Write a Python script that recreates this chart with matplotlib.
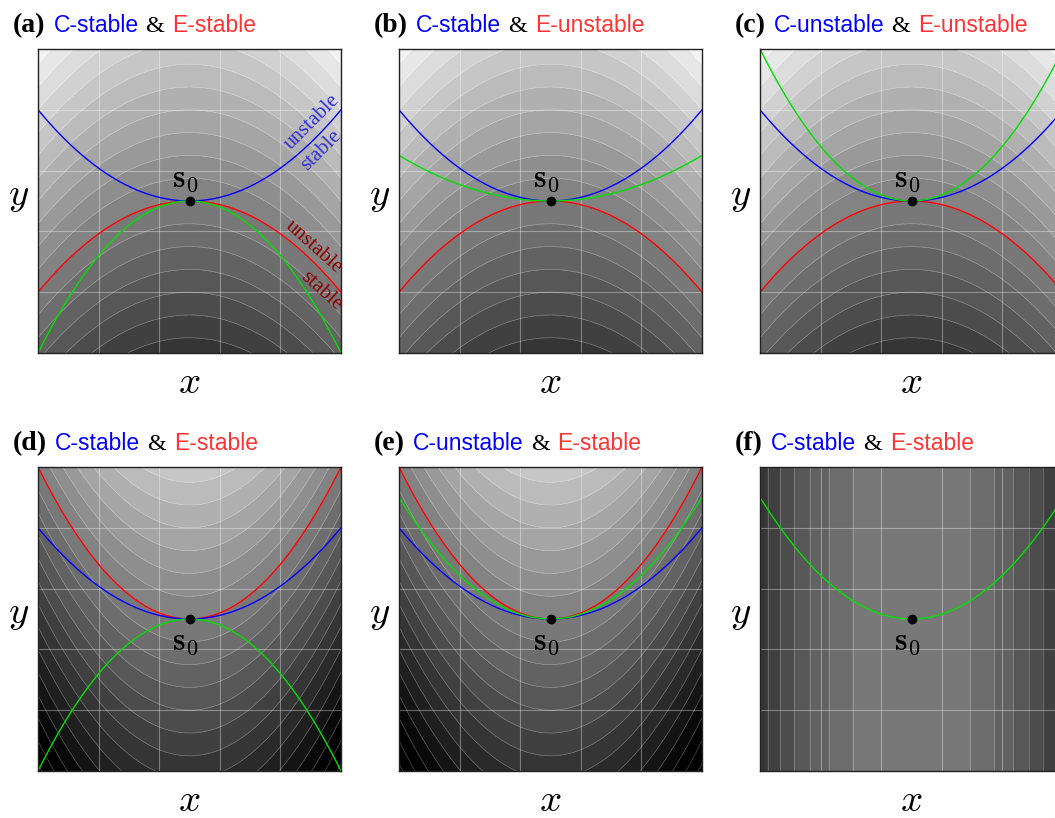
import numpy as np
import matplotlib
matplotlib.use('Agg')
import matplotlib.pyplot as plt
from matplotlib.colors import Normalize

plt.rcParams['mathtext.fontset'] = 'cm'

# panel data
letters = ['a', 'b', 'c', 'd', 'e', 'f']
c_state = ['stable', 'stable', 'unstable', 'stable', 'unstable', 'stable']
e_state = ['stable', 'unstable', 'unstable', 'stable', 'stable', 'stable']
blue_k = [0.6, 0.6, 0.6, 0.6, 0.6, None]      # C curve, y = k x^2
red_k = [-0.6, -0.6, -0.6, 1.0, 1.0, None]    # E level set through s0
green_k = [-1.0, 0.3, 1.0, -1.0, 0.8, 0.8]
field_k = [0.6, 0.6, 0.6, -1.0, -1.0, -1.0]   # background f = a*y + k*x^2
field_a = [1, 1, 1, 1, 1, 0]
s0_above = [True, True, True, False, False, False]
grid_ticks = [-0.6, -0.2, 0.2, 0.6]
levels = np.arange(-16, 17) * 0.15

W, H = 1055, 818
col_left = [38, 399, 760]
row_top = [49, 467]
aw, ah = 303, 304

fig = plt.figure(figsize=(W / 100, H / 100), dpi=100)
norm = Normalize(vmin=-1.7, vmax=1.75)

xs = np.linspace(-1, 1, 400)
X, Y = np.meshgrid(xs, xs)
xc = np.linspace(-1, 1, 300)

axes = []
for i in range(6):
    r, c = divmod(i, 3)
    l, t = col_left[c], row_top[r]
    ax = fig.add_axes([l / W, (H - t - ah) / H, aw / W, ah / H])
    axes.append(ax)
    F = field_a[i] * Y + field_k[i] * X ** 2
    ax.contourf(X, Y, F, levels=levels, cmap='gray', norm=norm, extend='both')
    ax.contour(X, Y, F, levels=levels, colors='white', linewidths=0.5,
               alpha=0.3, linestyles='solid')

    if red_k[i] is not None:
        ax.plot(xc, red_k[i] * xc ** 2, color='#ff0000', lw=1.0)
    if blue_k[i] is not None:
        ax.plot(xc, blue_k[i] * xc ** 2, color='#0000ff', lw=1.0)
    ax.plot(xc, green_k[i] * xc ** 2, color='#00e000', lw=1.0)
    ax.plot(0, 0, 'o', color='k', ms=6, zorder=5)
    if s0_above[i]:
        ax.annotate(r'$\mathbf{s}_0$', (0, 0), xytext=(-3, 5), textcoords='offset points',
                    ha='center', va='bottom', fontsize=23)
    else:
        ax.annotate(r'$\mathbf{s}_0$', (0, 0), xytext=(-3, -5), textcoords='offset points',
                    ha='center', va='top', fontsize=23)

    ax.set_xlim(-1, 1)
    ax.set_ylim(-1, 1)
    ax.set_xticks(grid_ticks)
    ax.set_yticks(grid_ticks)
    ax.tick_params(length=0, labelbottom=False, labelleft=False)
    ax.grid(True, color='white', alpha=0.35, lw=0.8)
    for s in ax.spines.values():
        s.set_color('#222222')
        s.set_linewidth(1.0)

    ax.text(0.5, -0.095, '$x$', transform=ax.transAxes, ha='center', va='center', fontsize=28)
    ax.text(-0.063, 0.52, '$y$', transform=ax.transAxes, ha='center', va='center', fontsize=28)

# stable / unstable side labels in panel (a)
ax = axes[0]
serif = 'Liberation Serif'
ax.text(0.81, 0.52, 'unstable', rotation=45, ha='center', va='center', color='#3030d8',
        family=serif, fontsize=15, rotation_mode='anchor')
ax.text(0.87, 0.33, 'stable', rotation=45, ha='center', va='center', color='#3030d8',
        family=serif, fontsize=15, rotation_mode='anchor')
ax.text(0.82, -0.30, 'unstable', rotation=-42, ha='center', va='center', color='#8b0000',
        family=serif, fontsize=15, rotation_mode='anchor')
ax.text(0.87, -0.59, 'stable', rotation=-42, ha='center', va='center', color='#8b0000',
        family=serif, fontsize=15, rotation_mode='anchor')

# titles made of coloured pieces
renderer = fig.canvas.get_renderer()
base_px = [32, 450]
for i in range(6):
    r, c = divmod(i, 3)
    x = col_left[c] - 25
    y = (H - base_px[r]) / H
    pieces = [
        ('(%s)' % letters[i], dict(family=serif, weight='bold', color='black', fontsize=20), 8),
        ('C-' + c_state[i], dict(family='Liberation Sans', color='#0000ff', fontsize=16.5), 7),
        ('&', dict(family=serif, color='black', fontsize=17.5), 8),
        ('E-' + e_state[i], dict(family='Liberation Sans', color='#ff3333', fontsize=16.5), 0),
    ]
    for txt, props, gap in pieces:
        tt = fig.text(x / W, y, txt, ha='left', va='baseline', **props)
        bb = tt.get_window_extent(renderer)
        x = bb.x1 + gap

fig.savefig('out.png', dpi=100)
